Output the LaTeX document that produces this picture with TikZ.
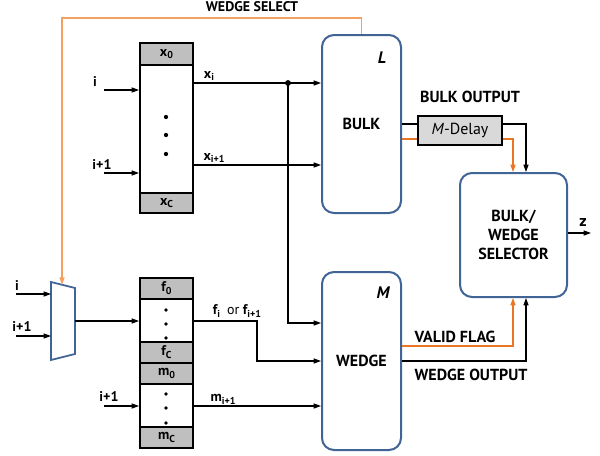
\documentclass[tikz,border=0pt]{standalone}
\usepackage{fontspec}
\setmainfont{PT Sans}
\usetikzlibrary{arrows.meta,calc}
\definecolor{boxblue}{RGB}{64,100,150}
\definecolor{orng}{RGB}{232,118,36}
\definecolor{lorng}{RGB}{245,160,95}
\definecolor{memgrey}{RGB}{191,191,191}
\definecolor{delaygrey}{RGB}{217,217,217}
\newcommand\sbs[1]{\raisebox{-0.4ex}{\fontsize{7.5}{7.5}\selectfont #1}}
\def\u{0.75pt}
\tikzset{
  bigbox/.style={draw=boxblue, line width=1.5pt, rounded corners=9pt, fill=white,
     font=\fontsize{12}{14}\selectfont\bfseries, align=center, inner sep=0pt},
  memcell/.style={draw, line width=1.5pt, fill=memgrey, minimum width=53*\u, inner sep=0pt,
     font=\fontsize{10.5}{12}\selectfont\bfseries},
  membody/.style={draw, line width=1.5pt, fill=white, minimum width=53*\u, inner sep=0pt},
  delaybox/.style={draw, line width=1.2pt, fill=delaygrey, minimum width=84*\u, minimum height=29*\u,
     inner sep=0pt, font=\fontsize{12}{14}\selectfont},
  wire/.style={line width=0.8pt},
  arr/.style={wire, -{Triangle[length=5.5pt,width=3.8pt]}},
  owire/.style={wire, draw=orng},
  oarr/.style={owire, -{Triangle[length=5.5pt,width=3.8pt]}},
  lbl/.style={inner sep=0pt, font=\fontsize{12}{14}\selectfont\bfseries},
  slbl/.style={inner sep=0pt, font=\fontsize{10.5}{12}\selectfont\bfseries},
}
\begin{document}
\begin{tikzpicture}[x=0.75pt,y=-0.75pt]
\useasboundingbox (0,0) rectangle (600,455);

% big blocks
\node[bigbox, minimum width=79*\u, minimum height=178*\u] (bulk) at (361.5,124) {BULK};
\node[bigbox, minimum width=79*\u, minimum height=178*\u] (wedge) at (361.5,361) {WEDGE};
\node[bigbox, minimum width=107*\u, minimum height=124*\u, font=\fontsize{12}{14}\selectfont\bfseries] (sel) at (513.5,235) {BULK/\\WEDGE\\SELECTOR};
\node[lbl, font=\fontsize{12.5}{14}\selectfont\bfseries\itshape] (bl) at (382,58) {L};
\node[lbl, font=\fontsize{12.5}{14}\selectfont\bfseries\itshape] (wm) at (383,293) {M};
\node[delaybox] (delay) at (460,130.5) {\textit{M}-Delay};

% X memory
\node[memcell, minimum height=22*\u] (x0) at (166.5,54) {x\sbs{0}};
\node[membody, minimum height=128*\u] (xbody) at (166.5,129) {};
\node[memcell, minimum height=20*\u] (xc) at (166.5,203) {x\sbs{C}};
\foreach \yy in {117,135,154} \fill (166,\yy) circle (1.6pt);

% F / M memory
\node[memcell, minimum height=21*\u] (f0) at (166.5,288.5) {f\sbs{0}};
\node[membody, minimum height=43*\u] (fbody) at (166.5,320.5) {};
\node[memcell, minimum height=21*\u] (fc) at (166.5,352.5) {f\sbs{C}};
\node[memcell, minimum height=21*\u] (m0) at (166.5,373.5) {m\sbs{0}};
\node[membody, minimum height=43*\u] (mbody) at (166.5,405.5) {};
\node[memcell, minimum height=21*\u] (mc) at (166.5,437.5) {m\sbs{C}};
\foreach \yy in {310,324,338,394,408,423} \fill (166,\yy) circle (1.4pt);

% mux
\coordinate (mA) at (51,282);
\coordinate (mB) at (75,288);
\coordinate (mC) at (75,354);
\coordinate (mD) at (51,360);
\draw[draw=boxblue, line width=1.3pt, fill=white] (mA) -- (mB) -- (mC) -- (mD) -- cycle;
\coordinate (muxtop) at (62,284.8);
\coordinate (muxout) at (75,321);

% wedge select
\draw[wire, draw=lorng, -{Triangle[length=5.5pt,width=3.8pt]}] (bulk.north) |- (muxtop |- 0,18) -- (muxtop);
\node[lbl, font=\fontsize{10.5}{12}\selectfont\bfseries] (wsel) at (252,7) {WEDGE SELECT};

% X inputs
\coordinate (xa) at (104,90);
\coordinate (xb) at (104,173);
\draw[arr] (xa) -- (xa -| xbody.west);
\draw[arr] (xb) -- (xb -| xbody.west);
\node[slbl] (li) at (95,82) {i};
\node[slbl] (li1) at (102,165) {i+1};

% X outputs
\coordinate (jn) at (288,83);
\draw[arr] (xbody.east |- jn) -- (bulk.west |- jn);
\fill (jn) circle (2.2pt);
\draw[arr] (jn) |- (wedge.west |- 0,323);
\draw[arr] (xbody.east |- 0,165) -- (bulk.west |- 0,165);
\node[slbl] (lxi) at (209,76) {x\sbs{i}};
\node[slbl] (lxi1) at (214,158) {x\sbs{i+1}};

% mux inputs / output
\coordinate (ma) at (16,294);
\coordinate (mb) at (16,336);
\draw[arr] (ma) -- (ma -| mA);
\draw[arr] (mb) -- (mb -| mA);
\node[slbl] (lmi) at (17,286) {i};
\node[slbl] (lmi1) at (22,327) {i+1};
\draw[arr] (muxout) -- (fbody.west |- muxout);

% F / M outputs
\draw[arr] (fbody.east |- muxout) -- (257,321) |- (wedge.west |- 0,361);
\node[slbl] (lfi) at (237,311) {f\sbs{i}\,\,\,{\mdseries or} f\sbs{i+1}};
\coordinate (mi) at (104,406);
\draw[arr] (mi) -- (mi -| mbody.west);
\node[slbl] (lmi1b) at (109,397) {i+1};
\draw[arr] (mbody.east |- mi) -- (wedge.west |- mi);
\node[slbl] (lmm) at (223,399) {m\sbs{i+1}};

% bulk outputs
\draw[wire] (bulk.east |- 0,124) -- (delay.west |- 0,124);
\draw[owire] (bulk.east |- 0,139) -- (delay.west |- 0,139);
\draw[arr] (delay.east |- 0,124) -| (sel.north -| 526,0);
\draw[oarr] (delay.east |- 0,139) -| (sel.north -| 513,0);
\node[lbl] (lbo) at (470,97) {BULK OUTPUT};

% wedge outputs
\draw[oarr] (wedge.east |- 0,346) -| (sel.south -| 513,0);
\draw[arr] (wedge.east |- 0,361) -| (sel.south -| 526,0);
\node[lbl] (lvf) at (455,337) {VALID FLAG};
\node[lbl] (lwo) at (471,375) {WEDGE OUTPUT};

% z output
\coordinate (zout) at (591,233);
\draw[arr] (sel.east |- zout) -- (zout);
\node[lbl] (lz) at (583,222) {z};
\end{tikzpicture}
\end{document}
